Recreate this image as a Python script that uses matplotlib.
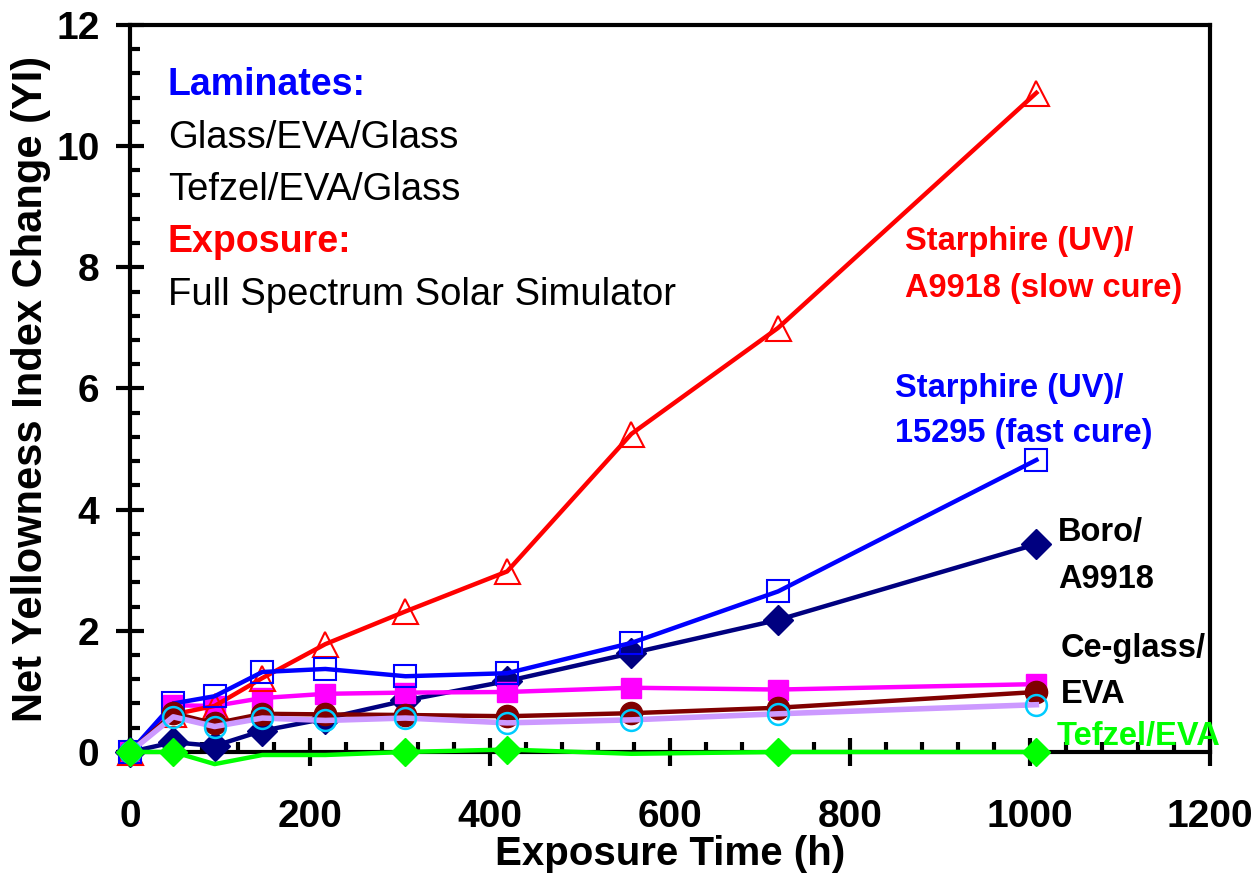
import numpy as np
import matplotlib.pyplot as plt
from matplotlib.ticker import MultipleLocator

plt.rcParams['font.family'] = ['Liberation Sans', 'DejaVu Sans']

# Exposure times (h)
hours = [0, 48, 94, 147, 217, 306, 419, 557, 720, 1007]

# Net yellowness index change for each laminate
yi_starphire_slow = [0, 0.62, 0.76, 1.22, 1.78, 2.32, 2.98, 5.25, 7.0, 10.88]
yi_starphire_fast = [0, 0.8, 0.92, 1.32, 1.37, 1.25, 1.3, 1.8, 2.65, 4.82]
yi_boro = [0, 0.16, 0.1, 0.35, 0.55, 0.85, 1.17, 1.63, 2.18, 3.43]
yi_ceglass_a = [0, 0.77, 0.76, 0.89, 0.96, 0.98, 0.99, 1.06, 1.03, 1.12]
yi_ceglass_b = [0, 0.64, 0.47, 0.63, 0.62, 0.61, 0.59, 0.64, 0.73, 0.99]
yi_ceglass_c = [0, 0.58, 0.42, 0.56, 0.52, 0.56, 0.48, 0.53, 0.63, 0.78]
yi_tefzel = [0, 0.0, -0.2, -0.05, -0.05, 0.0, 0.04, -0.03, 0.0, 0.0]
tefzel_marked = [0, 1, 5, 6, 8, 9]

fig = plt.figure(figsize=(12.54, 8.83), dpi=100)
ax = fig.add_axes([0.1037, 0.1484, 0.8613, 0.8233])

lw = 3.2
ax.plot(hours, yi_boro, color='#000080', lw=lw, marker='D', ms=15,
        clip_on=False, zorder=3)
ax.plot(hours, yi_ceglass_a, color='#FF00FF', lw=lw, marker='s', ms=15,
        clip_on=False, zorder=4)
ax.plot(hours, yi_starphire_slow, color='#FF0000', lw=lw, marker='^', ms=18,
        mfc='none', mew=1.5, clip_on=False, zorder=5)
ax.plot(hours, yi_starphire_fast, color='#0000FF', lw=lw, marker='s', ms=16,
        mfc='none', mew=1.5, clip_on=False, zorder=6)
ax.plot(hours, yi_ceglass_b, color='#800000', lw=lw, marker='o', ms=16,
        clip_on=False, zorder=7)
ax.plot(hours, yi_ceglass_c, color='#CC99FF', lw=4, clip_on=False, zorder=8)
ax.plot(hours, yi_ceglass_c, ls='none', marker='o', ms=15, mfc='none',
        mec='#00CCFF', mew=1.8, clip_on=False, zorder=9)
ax.plot(hours, yi_tefzel, color='#00FF00', lw=lw, marker='D', ms=14,
        markevery=tefzel_marked, clip_on=False, zorder=10)

ax.set_xlim(0, 1200)
ax.set_ylim(0, 12)
ax.xaxis.set_major_locator(MultipleLocator(200))
ax.xaxis.set_minor_locator(MultipleLocator(40))
ax.yaxis.set_major_locator(MultipleLocator(2))
ax.yaxis.set_minor_locator(MultipleLocator(0.4))

for s in ax.spines.values():
    s.set_linewidth(3)
ax.tick_params(which='major', direction='inout', length=20, width=3,
               labelsize=28)
ax.tick_params(axis='x', which='major', pad=24)
ax.tick_params(axis='y', which='major', pad=12)
ax.tick_params(which='minor', direction='in', length=7, width=3)
ax.tick_params(top=False, right=False, which='both')
for lab in ax.get_xticklabels() + ax.get_yticklabels():
    lab.set_fontweight('bold')

ax.set_xlabel('Exposure Time (h)', fontsize=29, fontweight='bold', labelpad=0)
ax.set_ylabel('Net Yellowness Index Change (YI)', fontsize=30,
              fontweight='bold', labelpad=4)

# Upper-left description
left = 42
ax.text(left, 10.84, 'Laminates:', color='#0000FF', fontsize=27,
        fontweight='bold', va='baseline')
ax.text(left, 9.97, 'Glass/EVA/Glass', fontsize=27.5, va='baseline')
ax.text(left, 9.11, 'Tefzel/EVA/Glass', fontsize=27.5, va='baseline')
ax.text(left, 8.25, 'Exposure:', color='#FF0000', fontsize=27,
        fontweight='bold', va='baseline')
ax.text(left, 7.38, 'Full Spectrum Solar Simulator', fontsize=27.5,
        va='baseline')

# Series labels
ann = dict(fontsize=23.5, fontweight='bold', va='baseline')
ax.text(861, 8.28, 'Starphire (UV)/', color='#FF0000', **ann)
ax.text(861, 7.51, 'A9918 (slow cure)', color='#FF0000', **ann)
ax.text(850, 5.86, 'Starphire (UV)/', color='#0000FF', **ann)
ax.text(850, 5.12, '15295 (fast cure)', color='#0000FF', **ann)
ax.text(1031, 3.48, 'Boro/', color='black', **ann)
ax.text(1031, 2.71, 'A9918', color='black', **ann)
ax.text(1034, 1.57, 'Ce-glass/', color='black', **ann)
ax.text(1034, 0.81, 'EVA', color='black', **ann)
ax.text(1030, 0.12, 'Tefzel/EVA', color='#00FF00', **ann)

fig.savefig('out.png', dpi=100)
